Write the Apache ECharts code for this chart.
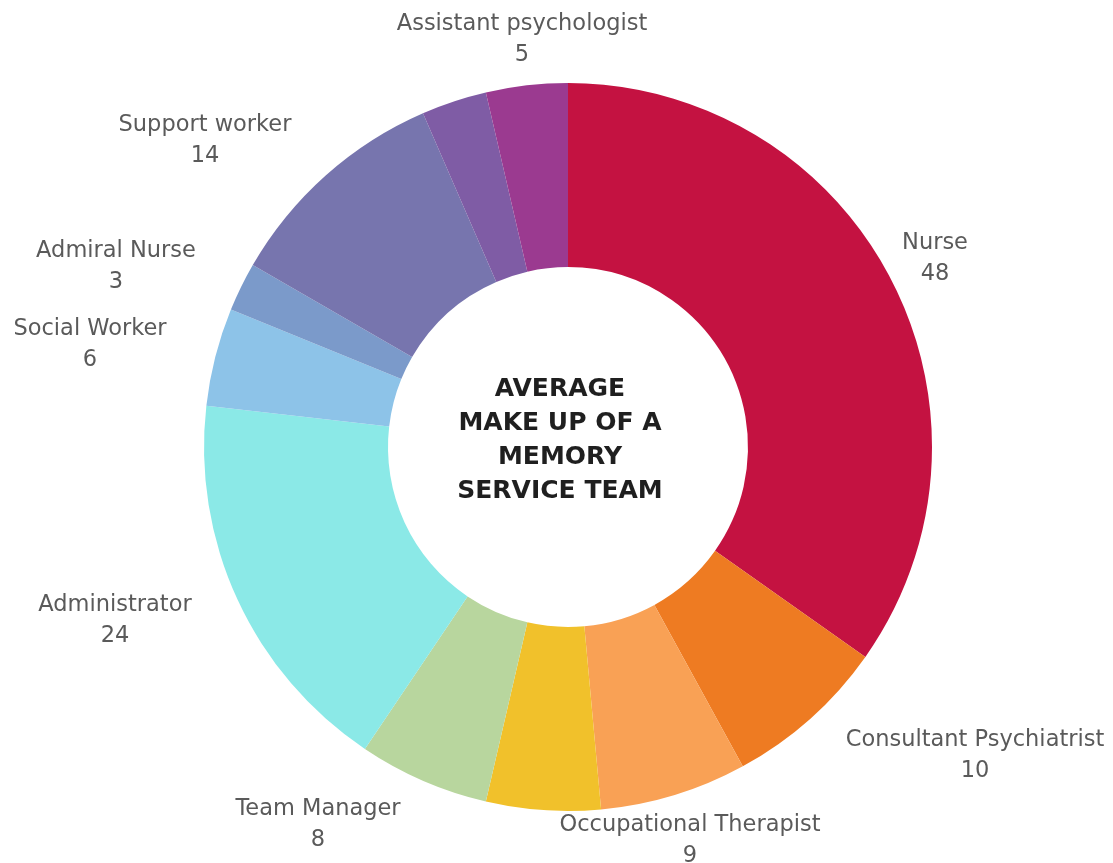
<!DOCTYPE html>
<html>
<head>
<meta charset="utf-8">
<title>Average make up of a memory service team</title>
<script src="https://cdn.jsdelivr.net/npm/echarts@6/dist/echarts.min.js"></script>
<style>
  html, body { margin: 0; padding: 0; background: #ffffff; }
  #chart { width: 1113px; height: 863px; }
</style>
</head>
<body>
<div id="chart"></div>
<script>
// Team roles, clockwise from twelve o'clock
const roles = [
  'Nurse',
  'Consultant Psychiatrist',
  'Occupational Therapist',
  'Psychologist',
  'Team Manager',
  'Administrator',
  'Social Worker',
  'Admiral Nurse',
  'Support worker',
  'Other',
  'Assistant psychologist'
];

// Average head count per role
const counts = [48, 10, 9, 7, 8, 24, 6, 3, 14, 4, 5];

// Roles whose label is printed beside the ring
const labelled = [true, true, true, false, true, true, true, true, true, false, true];

// Slice colours, same order as roles
const sliceColors = [
  '#C41241', '#EE7B22', '#F9A155', '#F1C12B', '#B8D69E', '#8BE9E7',
  '#8DC3E8', '#7B9ACA', '#7775AE', '#7F5CA5', '#9B3A90'
];

// Where each role's label block is centred (px), same order as roles
const labelAnchors = [
  [935, 259], [975, 756], [690, 841], null, [318, 825], [115, 621],
  [90, 345], [116, 267], [205, 141], null, [522, 40]
];

const centreTitle = 'AVERAGE\nMAKE UP OF A\nMEMORY\nSERVICE TEAM';

const chart = echarts.init(document.getElementById('chart'), null, { renderer: 'canvas' });

const pieData = roles.map((name, i) => ({
  name: name,
  value: counts[i],
  itemStyle: { color: sliceColors[i] },
  label: { show: labelled[i] }
}));

chart.setOption({
  backgroundColor: '#ffffff',
  animation: false,
  graphic: [{
    type: 'text',
    x: 560,
    y: 440,
    style: {
      text: centreTitle,
      x: 0,
      y: 0,
      align: 'center',
      verticalAlign: 'middle',
      font: 'bold 25px "DejaVu Sans"',
      lineHeight: 34,
      fill: '#1f1f1f'
    }
  }],
  series: [{
    type: 'pie',
    center: [568, 447],
    radius: [180, 364],
    startAngle: 90,
    clockwise: true,
    avoidLabelOverlap: false,
    silent: true,
    itemStyle: { borderWidth: 0 },
    label: {
      show: true,
      position: 'outside',
      formatter: '{b}\n{c}',
      fontFamily: 'DejaVu Sans',
      fontSize: 22.5,
      lineHeight: 31,
      color: '#5a5a5a',
      align: 'center'
    },
    labelLine: { show: false },
    labelLayout: function (params) {
      const p = labelAnchors[params.dataIndex];
      if (!p) return {};
      return { x: p[0], y: p[1], align: 'center', verticalAlign: 'middle' };
    },
    data: pieData
  }]
});
</script>
</body>
</html>
